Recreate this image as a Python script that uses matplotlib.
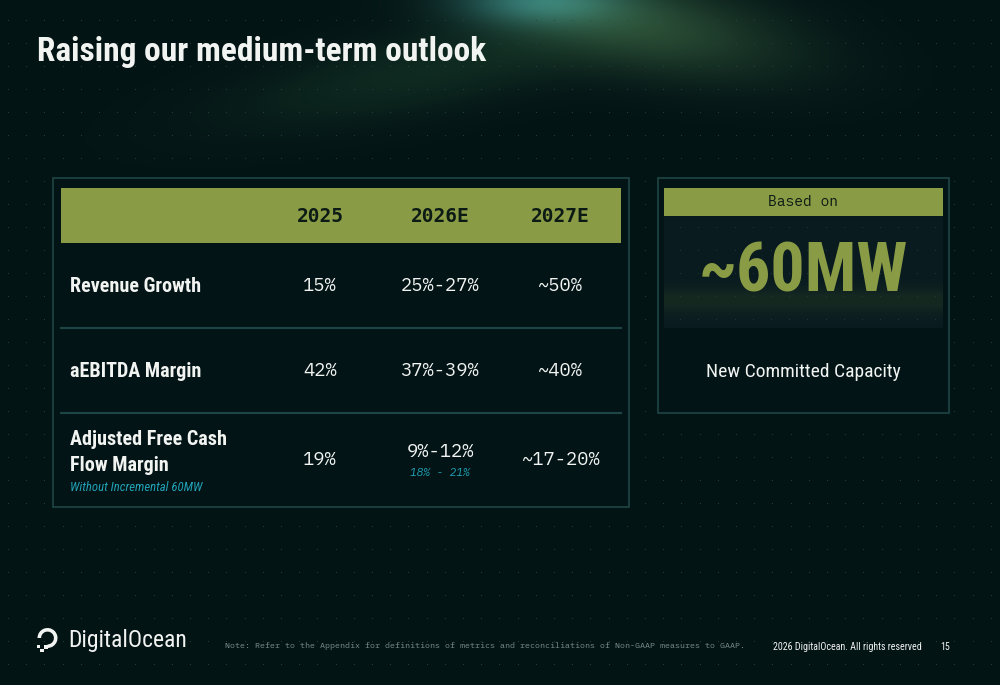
import numpy as np
import matplotlib.pyplot as plt
from matplotlib.patches import Rectangle, Wedge

# slide content
title = 'Raising our medium-term outlook'
columns = ['2025', '2026E', '2027E']
metrics = ['Revenue Growth', 'aEBITDA Margin', 'Adjusted Free Cash\nFlow Margin']
values_2025 = ['15%', '42%', '19%']
values_2026 = ['25%-27%', '37%-39%', '9%-12%']
values_2027 = ['~50%', '~40%', '~17-20%']
fcf_note = 'Without Incremental 60MW'
fcf_2026_alt = '18% - 21%'
capacity_head = 'Based on'
capacity_value = '~60MW'
capacity_label = 'New Committed Capacity'
footer_note = ('Note: Refer to the Appendix for definitions of metrics and '
               'reconciliations of Non-GAAP measures to GAAP.')
footer_copy = '2026 DigitalOcean. All rights reserved'
page_no = '15'

COND = ['Roboto Condensed', 'DejaVu Sans']
MONO = ['IBM Plex Mono', 'DejaVu Sans Mono']
HEAD = ['DejaVu Sans Mono']
OLIVE = '#8a9b45'
WHITE = '#f2f4f2'
TEAL = '#22a3b8'
BORDER = '#1e4545'

W, H = 1000, 685
fig = plt.figure(figsize=(10, 6.85), dpi=100)
ax = fig.add_axes([0, 0, 1, 1])
ax.set_xlim(0, W)
ax.set_ylim(H, 0)
ax.axis('off')

# background with glow at the top
yy, xx = np.mgrid[0:H, 0:W].astype(float)
img = np.zeros((H, W, 3)) + np.array([3, 20, 21]) / 255

def glow(cx, cy, sx, sy, col, ang=0.0):
    c, s = np.cos(ang), np.sin(ang)
    dx, dy = xx - cx, yy - cy
    u = dx * c + dy * s
    v = -dx * s + dy * c
    g = np.exp(-(u / sx) ** 2 - (v / sy) ** 2)
    return g[..., None] * np.array(col) / 255

img += glow(540, 0, 80, 25, (32, 75, 80))
img += glow(640, 25, 150, 45, (35, 50, 28), 0.18)
img += glow(430, 70, 200, 40, (12, 22, 12), -0.2)
img = np.clip(img, 0, 1)
ax.imshow(img, extent=[0, W, H, 0], zorder=0, aspect='auto')

# dot grid
gx, gy = np.meshgrid(np.arange(8, W, 18.2), np.arange(20, H, 23))
ax.scatter(gx.ravel(), gy.ravel(), s=0.6, color='#2a4442', lw=0, zorder=1)

ax.text(37, 52, title, color=WHITE, fontsize=24, fontweight='bold',
        family=COND, va='center', ha='left', zorder=5)

# ---- outlook table ----
ax.add_patch(Rectangle((53, 178), 576, 329, facecolor='#031416',
                       edgecolor=BORDER, lw=1.2, zorder=2))
ax.add_patch(Rectangle((61, 188), 560, 55, facecolor=OLIVE, lw=0, zorder=3))
col_x = [320, 440, 560]
for x, c in zip(col_x, columns):
    ax.text(x, 216, c, color='#0b1a14', fontsize=14, fontweight='bold',
            family=HEAD, ha='center', va='center', zorder=4)

for y in [328, 413]:
    ax.plot([61, 621], [y, y], color=BORDER, lw=1.5, zorder=3)

row_y = [286, 371, 460]
for i, (m, y) in enumerate(zip(metrics, row_y)):
    if i < 2:
        ax.text(70, y, m, color=WHITE, fontsize=14.5, fontweight='bold',
                family=COND, ha='left', va='center', zorder=4)
    else:
        for k, line in enumerate(m.split('\n')):
            ax.text(70, 439 + 26 * k, line, color=WHITE, fontsize=14.5,
                    fontweight='bold', family=COND, ha='left', va='center',
                    zorder=4)
        ax.text(70, 487, fcf_note, color=TEAL, fontsize=9.2, style='italic',
                family=COND, ha='left', va='center', zorder=4)
    vals = [values_2025[i], values_2026[i], values_2027[i]]
    for j, (x, v) in enumerate(zip(col_x, vals)):
        vy = y
        if i == 2 and j == 1:
            vy = 452
        ax.text(x, vy, v, color=WHITE, fontsize=13.5, family=MONO,
                ha='center', va='center', zorder=4)
ax.text(col_x[1], 473, fcf_2026_alt, color=TEAL, fontsize=8, style='italic',
        family=MONO, ha='center', va='center', zorder=4)

# ---- capacity box ----
ax.add_patch(Rectangle((658, 178), 291, 235, facecolor='#031416',
                       edgecolor=BORDER, lw=1.2, zorder=2))
ax.add_patch(Rectangle((664, 188), 279, 28, facecolor=OLIVE, lw=0, zorder=3))
ax.text(803, 202, capacity_head, color='#0b1a14', fontsize=10.5,
        family=MONO, ha='center', va='center', zorder=4)
py, px = np.mgrid[0:112, 0:279].astype(float)
panel = np.zeros((112, 279, 3)) + np.array([9, 27, 31]) / 255
band = np.exp(-((py - 84) / 13) ** 2)[..., None]
panel += band * np.array([13, 14, 2]) / 255
ax.imshow(np.clip(panel, 0, 1), extent=[664, 943, 328, 216], zorder=3,
          aspect='auto')
pgx, pgy = np.meshgrid(np.arange(680, 940, 18.2), np.arange(227, 328, 23))
ax.scatter(pgx.ravel(), pgy.ravel(), s=0.5, color='#1e3a3a', lw=0, zorder=3.5)
ax.text(803, 273, capacity_value, color=OLIVE, fontsize=49, fontweight='bold',
        family=COND, ha='center', va='center', zorder=4)
ax.text(803, 372, capacity_label, color=WHITE, fontsize=14,
        family=COND, ha='center', va='center', zorder=4)

# ---- footer ----
ax.add_patch(Wedge((47.5, 638), 10, 180, 450, width=3.6, facecolor=WHITE,
                   lw=0, zorder=4))
ax.add_patch(Rectangle((43.5, 644.5), 4.5, 4, facecolor=WHITE, lw=0, zorder=4))
ax.add_patch(Rectangle((40, 648.5), 3.5, 3.5, facecolor=WHITE, lw=0, zorder=4))
ax.add_patch(Rectangle((37, 645), 2.8, 2.8, facecolor=WHITE, lw=0, zorder=4))
ax.text(68, 641, 'DigitalOcean', color=WHITE, fontsize=17,
        family=COND, ha='left', va='center', zorder=4)
ax.text(225, 646, footer_note, color='#7d8e8c', fontsize=6.0, family=MONO,
        ha='left', va='center', zorder=4)
ax.text(773, 647, footer_copy, color=WHITE, fontsize=7.2, family=COND,
        ha='left', va='center', zorder=4)
ax.text(940, 647, page_no, color=WHITE, fontsize=7.2, family=COND,
        ha='left', va='center', zorder=4)

fig.savefig('out.png', dpi=100, facecolor='#031415')
